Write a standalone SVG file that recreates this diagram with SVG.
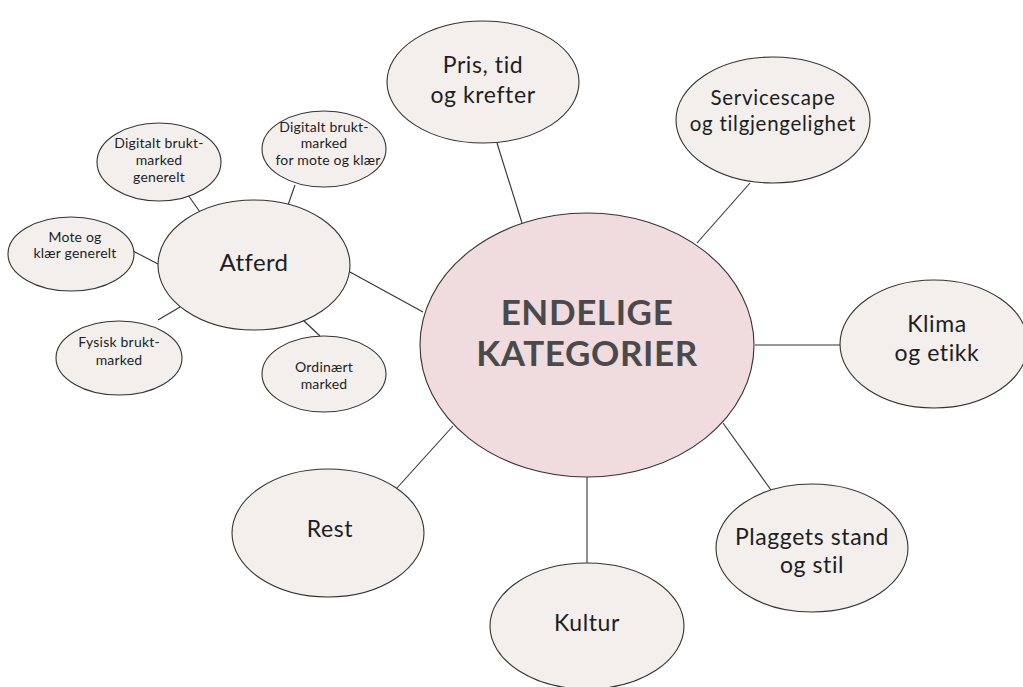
<svg xmlns="http://www.w3.org/2000/svg" width="1023" height="687" viewBox="0 0 1023 687">
<style>
.n{fill:#f2efec;stroke:#333;stroke-width:1.1}
.c{fill:#f0dbde;stroke:#333;stroke-width:1.1}
.e line{stroke:#333;stroke-width:1.1}
text{font-family:Lato,"Noto Sans","Liberation Sans",sans-serif;fill:#1e1e1e;text-anchor:middle}
.b{font-size:23px;letter-spacing:0.6px}
.s{font-size:14px;letter-spacing:0.2px}
.m{font-size:20.5px;letter-spacing:0.7px}
.t{font-size:35px;font-weight:bold;fill:#4a4a4a;letter-spacing:0.6px}
</style>
<rect width="1023" height="687" fill="#fff"/>
<g class="e" id="connectors">
<line x1="497" y1="143" x2="522" y2="223"/>
<line x1="750" y1="183" x2="697" y2="243"/>
<line x1="755" y1="345" x2="840" y2="345"/>
<line x1="723" y1="423" x2="771" y2="490"/>
<line x1="587" y1="476" x2="587" y2="563"/>
<line x1="397" y1="488" x2="453" y2="426"/>
<line x1="350" y1="272" x2="423" y2="312"/>
<line x1="188" y1="195" x2="200" y2="212"/>
<line x1="295" y1="185" x2="288" y2="205"/>
<line x1="133" y1="251" x2="158" y2="264"/>
<line x1="158" y1="320" x2="180" y2="307"/>
<line x1="303" y1="320" x2="320" y2="336"/>
</g>
<g id="center"><ellipse class="c" cx="587" cy="345" rx="167" ry="132"/>
<text class="t" x="587" y="325">ENDELIGE</text><text class="t" x="587" y="366">KATEGORIER</text></g>
<g id="pris"><ellipse class="n" cx="483" cy="82" rx="96" ry="61"/>
<text class="b" x="483" y="73">Pris, tid</text><text class="b" x="483" y="103">og krefter</text></g>
<g id="servicescape"><ellipse class="n" cx="773" cy="120" rx="97" ry="63"/>
<text class="m" x="773" y="105">Servicescape</text><text class="m" x="773" y="131">og tilgjengelighet</text></g>
<g id="klima"><ellipse class="n" cx="934" cy="344" rx="94" ry="64"/>
<text class="b" x="937" y="332">Klima</text><text class="b" x="937" y="361">og etikk</text></g>
<g id="plaggets"><ellipse class="n" cx="812" cy="548" rx="96" ry="64"/>
<text class="b" x="812" y="545">Plaggets stand</text><text class="b" x="812" y="573">og stil</text></g>
<g id="kultur"><ellipse class="n" cx="587" cy="626" rx="97" ry="63"/>
<text class="b" x="587" y="631">Kultur</text></g>
<g id="rest"><ellipse class="n" cx="328" cy="533" rx="96" ry="64"/>
<text class="b" x="330" y="537">Rest</text></g>
<g id="atferd"><ellipse class="n" cx="254" cy="265" rx="96" ry="65"/>
<text class="b" x="254" y="271" style="font-size:24px;letter-spacing:0.4px">Atferd</text></g>
<g id="digitalt-generelt"><ellipse class="n" cx="159" cy="162" rx="62" ry="39"/>
<text class="s" x="159" y="148">Digitalt brukt-</text><text class="s" x="159" y="165">marked</text><text class="s" x="159" y="182">generelt</text></g>
<g id="digitalt-mote"><ellipse class="n" cx="324" cy="149" rx="62" ry="38"/>
<text class="s" x="324" y="132">Digitalt brukt-</text><text class="s" x="324" y="148">marked</text><text class="s" x="328" y="165">for mote og klær</text></g>
<g id="mote"><ellipse class="n" cx="71" cy="254" rx="63" ry="37"/>
<text class="s" x="75" y="242">Mote og</text><text class="s" x="75" y="258">klær generelt</text></g>
<g id="fysisk"><ellipse class="n" cx="119" cy="358" rx="63" ry="37"/>
<text class="s" x="119" y="347">Fysisk brukt-</text><text class="s" x="119" y="365">marked</text></g>
<g id="ordinaert"><ellipse class="n" cx="324" cy="374" rx="62" ry="38"/>
<text class="s" x="324" y="372">Ordinært</text><text class="s" x="324" y="389">marked</text></g>
</svg>
